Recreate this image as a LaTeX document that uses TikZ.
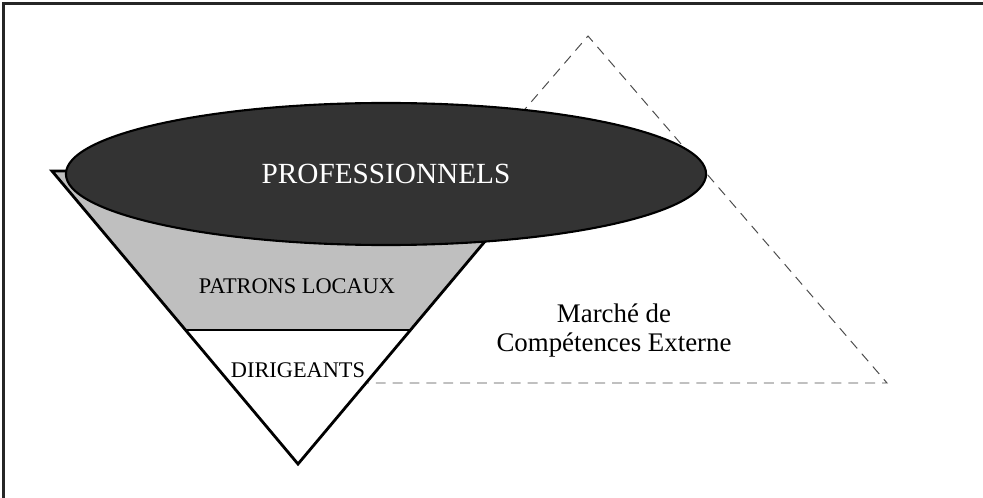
\documentclass[tikz,border=0pt]{standalone}
\usepackage{fontspec}
\setmainfont{Liberation Serif}
\usetikzlibrary{calc, shapes.geometric}

\begin{document}
\begin{tikzpicture}[x=0.025cm,y=-0.025cm,
   frame/.style={line width=2pt,black!85},
   market/.style={line width=0.7pt,black!70,dash pattern=on 7pt off 5pt},
   cone/.style={line width=2pt,line join=miter},
   tier/.style={font=\fontsize{15.9}{18}\selectfont,anchor=base}]
\useasboundingbox (0,0) rectangle (983,498);
\draw[frame] (3.5,498) -- (3.5,3.5) -- (983,3.5);

% marche externe
\coordinate (mtop) at (588,36);
\coordinate (mleft) at (289,383);
\coordinate (mright) at (887,383);
\draw[market] (mleft) -- (mtop) -- (mright) -- cycle;

% cone
\coordinate (tl) at (52,171);
\coordinate (tr) at (544,171);
\coordinate (apex) at (298,464);
\coordinate (bl) at ($(tl)!0.5427!(apex)$);
\coordinate (br) at ($(tr)!0.5427!(apex)$);
\fill[black!25] (tl) -- (tr) -- (br) -- (bl) -- cycle;
\fill[white] (bl) -- (br) -- (apex) -- cycle;
\draw[cone] (tl) -- (tr) -- (apex) -- cycle;
\draw[cone] (bl) -- (br);

\node[ellipse,draw,line width=1.5pt,fill=black!80,text=white,inner sep=0pt,
   minimum width=16cm,minimum height=3.55cm,font=\fontsize{20.8}{24}\selectfont]
   (prof) at (386,174) {PROFESSIONNELS};

\node[tier] (patrons) at (297,293) {PATRONS LOCAUX};
\node[tier] (dirig) at (298,377) {DIRIGEANTS};
\node[align=center,font=\fontsize{19.1}{20.6}\selectfont] (marche) at (614,331)
   {Marché de\\Compétences Externe};
\end{tikzpicture}
\end{document}
